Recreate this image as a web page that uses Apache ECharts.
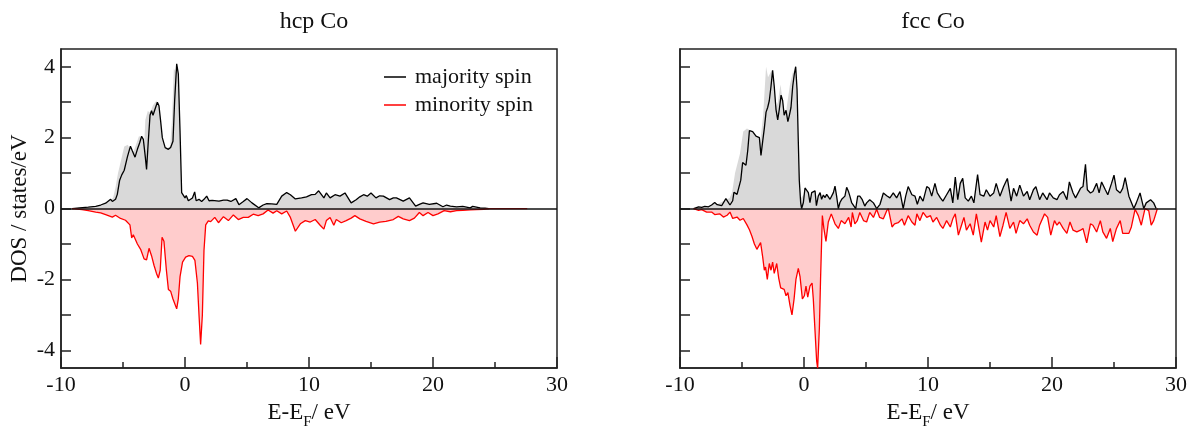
<!DOCTYPE html>
<html>
<head>
<meta charset="utf-8">
<script src="https://cdn.jsdelivr.net/npm/echarts@6/dist/echarts.min.js"></script>
<style>
html,body{margin:0;padding:0;background:#fff;}
#chart{width:1193px;height:435px;}
</style>
</head>
<body>
<div id="chart"></div>
<script>
// ---- Data: [E - E_F (eV), DOS (states/eV)] ----
const panelTitles = ['hcp Co', 'fcc Co'];
const legendNames = ['majority spin', 'minority spin'];
const xTicks = [-10, 0, 10, 20, 30];
const yTicks = [-4, -3, -2, -1, 0, 1, 2, 3, 4];
const yLabels = [-4, -2, 0, 2, 4];

const hcpUp = [[-9.1,0],[-8.5,0.02],[-7.8,0.04],[-7.2,0.06],[-6.8,0.1],[-6.4,0.15],[-6.0,0.26],[-5.86,0.2],[-5.6,0.26],[-5.46,0.4],[-5.27,0.8],[-5.1,0.95],[-4.9,1.08],[-4.65,1.45],[-4.4,1.76],[-4.25,1.63],[-4.03,1.45],[-3.84,1.67],[-3.66,1.85],[-3.5,2.04],[-3.36,1.95],[-3.2,1.45],[-3.1,1.1],[-2.96,1.9],[-2.82,2.63],[-2.7,2.76],[-2.58,2.63],[-2.42,2.8],[-2.23,3.0],[-2.1,2.9],[-1.96,2.45],[-1.83,2.0],[-1.6,1.72],[-1.34,1.67],[-1.16,1.72],[-0.97,1.9],[-0.83,3.08],[-0.67,4.08],[-0.54,3.8],[-0.4,2.17],[-0.27,0.45],[-0.16,0.4],[0,0.3],[0.1,0.37],[0.27,0.22],[0.4,0.17],[0.6,0.3],[0.78,0.47],[0.9,0.22],[1.13,0.26],[1.34,0.2],[1.53,0.26],[1.75,0.35],[1.94,0.22],[2.2,0.23],[2.74,0.21],[3.1,0.24],[3.4,0.24],[3.7,0.2],[4.1,0.28],[4.35,0.11],[4.7,0.2],[5.0,0.28],[5.4,0.16],[5.94,0.02],[6.3,0.1],[6.6,0.14],[7.0,0.13],[7.4,0.12],[7.8,0.35],[8.2,0.45],[8.5,0.39],[8.9,0.27],[9.4,0.3],[9.8,0.33],[10.2,0.39],[10.5,0.4],[10.78,0.5],[11.2,0.3],[11.4,0.44],[11.7,0.3],[12.1,0.39],[12.5,0.35],[12.9,0.44],[13.4,0.16],[13.8,0.25],[14.1,0.33],[14.4,0.39],[14.7,0.35],[15.0,0.44],[15.4,0.3],[15.7,0.36],[16.0,0.35],[16.5,0.25],[16.8,0.3],[17.05,0.3],[17.6,0.21],[18.1,0.3],[18.6,0.07],[18.9,0.12],[19.2,0.16],[19.7,0.12],[20.3,0.15],[20.8,0.05],[21.1,0.1],[21.4,0.07],[21.9,0.05],[22.4,0.06],[23.0,0.02],[23.2,0.06],[23.8,0.02],[24.2,0.01],[24.5,0]];

const hcpDown = [[-9.1,0],[-8.3,-0.03],[-7.8,-0.06],[-7.2,-0.1],[-6.8,-0.12],[-6.4,-0.17],[-5.86,-0.24],[-5.6,-0.19],[-5.2,-0.28],[-4.8,-0.33],[-4.44,-0.46],[-4.3,-0.83],[-4.17,-0.74],[-4.03,-0.78],[-3.84,-1.0],[-3.58,-1.15],[-3.3,-1.42],[-3.1,-1.45],[-2.9,-1.12],[-2.7,-1.33],[-2.5,-1.6],[-2.3,-1.83],[-2.15,-1.96],[-2.0,-1.74],[-1.85,-0.81],[-1.7,-0.92],[-1.5,-1.74],[-1.34,-2.28],[-1.16,-2.33],[-0.97,-2.55],[-0.67,-2.83],[-0.54,-2.55],[-0.4,-1.92],[-0.2,-1.51],[0.05,-1.37],[0.32,-1.33],[0.6,-1.35],[0.8,-1.46],[1.0,-2.1],[1.13,-3.0],[1.26,-3.83],[1.4,-3.0],[1.53,-1.19],[1.67,-0.46],[1.88,-0.35],[2.07,-0.37],[2.4,-0.25],[2.7,-0.4],[3.1,-0.23],[3.5,-0.34],[3.9,-0.18],[4.3,-0.31],[4.7,-0.25],[5.1,-0.25],[5.5,-0.16],[5.9,-0.2],[6.3,-0.15],[6.7,-0.04],[7.1,-0.13],[7.4,-0.06],[7.8,-0.15],[8.2,-0.07],[8.5,-0.25],[8.9,-0.64],[9.3,-0.43],[9.7,-0.34],[10.1,-0.38],[10.5,-0.31],[10.9,-0.47],[11.2,-0.58],[11.4,-0.34],[11.7,-0.25],[12.0,-0.47],[12.2,-0.31],[12.6,-0.4],[13.0,-0.34],[13.4,-0.27],[13.7,-0.2],[14.1,-0.29],[14.6,-0.36],[15.2,-0.43],[15.7,-0.38],[16.2,-0.36],[16.8,-0.31],[17.2,-0.22],[17.6,-0.29],[18.1,-0.34],[18.5,-0.27],[18.9,-0.11],[19.2,-0.2],[19.6,-0.11],[20.0,-0.2],[20.4,-0.15],[20.9,-0.06],[21.4,-0.09],[21.9,-0.06],[22.4,-0.05],[23.0,-0.04],[23.5,-0.03],[24.1,-0.02],[24.6,0],[27.6,0]];

const fccUp = [[-8.9,0],[-8.5,0.05],[-8.25,0.03],[-8.0,0.06],[-7.7,0.05],[-7.45,0.1],[-7.2,0.17],[-7.0,0.11],[-6.64,0.08],[-6.3,0.28],[-5.97,0.1],[-5.75,0.22],[-5.65,0.46],[-5.4,0.4],[-5.27,0.45],[-5.1,0.8],[-4.95,1.3],[-4.8,1.26],[-4.68,1.22],[-4.54,1.63],[-4.4,2.2],[-4.27,2.17],[-4.14,2.17],[-4.0,2.2],[-3.87,2.04],[-3.74,2.08],[-3.6,2.0],[-3.47,1.5],[-3.33,1.9],[-3.2,2.26],[-3.06,2.72],[-2.93,2.85],[-2.8,3.04],[-2.66,3.45],[-2.53,3.9],[-2.4,3.45],[-2.26,2.8],[-2.12,2.5],[-1.99,2.8],[-1.85,3.2],[-1.72,3.04],[-1.6,2.63],[-1.45,2.77],[-1.3,2.45],[-1.18,2.63],[-1.05,2.85],[-0.91,3.45],[-0.78,3.8],[-0.67,4.0],[-0.56,3.35],[-0.46,1.9],[-0.38,0.8],[-0.27,0.17],[-0.19,0],[-0.05,0.17],[0.08,0.58],[0.2,0.63],[0.35,0.45],[0.48,0.17],[0.62,0.45],[0.75,0.4],[0.89,0.5],[1.0,0.08],[1.15,0.35],[1.3,0.45],[1.42,0.26],[1.56,0.38],[1.7,0.31],[1.83,0.4],[1.96,0.45],[2.1,0.26],[2.23,0.31],[2.37,0.45],[2.5,0.63],[2.63,0.35],[2.77,0],[2.9,0.17],[3.04,0.26],[3.17,0.22],[3.3,0.35],[3.44,0.6],[3.58,0.49],[3.7,0.35],[3.84,0.17],[3.98,0.22],[4.17,0],[4.33,0.35],[4.5,0.35],[4.7,0.25],[4.9,0.07],[5.05,0.16],[5.3,0.25],[5.6,0.16],[5.86,0],[6.13,0.12],[6.4,0.44],[6.67,0.36],[6.93,0.3],[7.2,0.44],[7.47,0.3],[7.74,0.48],[8.0,0],[8.2,0.35],[8.4,0.62],[8.7,0.39],[8.95,0.35],[9.14,0.12],[9.35,0.35],[9.6,0.21],[9.9,0.62],[10.1,0.57],[10.3,0.35],[10.56,0.71],[10.75,0.44],[11.0,0.3],[11.2,0.21],[11.5,0.39],[11.8,0.57],[12.0,0.16],[12.2,0.89],[12.4,0.25],[12.6,0.71],[12.8,0.85],[13.0,0.3],[13.25,0.21],[13.5,0.35],[13.7,0.16],[14.0,0.96],[14.2,0.39],[14.5,0.35],[14.7,0.53],[15.0,0.35],[15.3,0.44],[15.5,0.71],[15.8,0.35],[16.1,0.62],[16.4,0.85],[16.7,0.21],[16.9,0.57],[17.15,0.35],[17.4,0.66],[17.7,0.35],[18.0,0.48],[18.2,0.25],[18.5,0.53],[18.7,0.62],[19.0,0.25],[19.25,0.44],[19.6,0.25],[19.8,0.44],[20.1,0.3],[20.4,0.25],[20.6,0.39],[20.9,0.48],[21.2,0.25],[21.4,0.75],[21.7,0.44],[21.9,0.3],[22.3,0.57],[22.5,0.62],[22.7,1.25],[22.85,0.53],[23.1,0.44],[23.3,0.48],[23.6,0.71],[23.8,0.44],[24.0,0.75],[24.3,0.53],[24.5,0.39],[24.8,0.71],[25.0,0.94],[25.2,0.53],[25.5,0.44],[25.7,0.57],[25.9,0.87],[26.2,0.35],[26.6,0],[26.8,0.16],[27.1,0.44],[27.4,0],[27.6,0.16],[27.95,0.25],[28.2,0.16],[28.4,0]];

const fccDown = [[-8.9,0],[-8.5,-0.05],[-8.25,-0.03],[-7.85,-0.1],[-7.45,-0.1],[-7.2,-0.17],[-6.8,-0.15],[-6.5,-0.24],[-6.2,-0.19],[-5.97,-0.1],[-5.75,-0.28],[-5.4,-0.24],[-5.16,-0.33],[-4.9,-0.28],[-4.6,-0.46],[-4.4,-0.6],[-4.2,-0.78],[-4.0,-1.0],[-3.8,-1.15],[-3.66,-1.19],[-3.5,-0.96],[-3.33,-1.37],[-3.2,-1.74],[-3.1,-1.65],[-2.96,-2.0],[-2.8,-1.55],[-2.66,-1.74],[-2.53,-1.51],[-2.4,-1.83],[-2.2,-1.55],[-2.04,-1.96],[-1.88,-2.24],[-1.72,-2.19],[-1.6,-2.28],[-1.45,-2.46],[-1.3,-2.37],[-1.13,-2.73],[-0.97,-3.0],[-0.8,-2.55],[-0.65,-2.0],[-0.46,-1.69],[-0.32,-1.92],[-0.13,-2.55],[0.03,-2.46],[0.16,-2.19],[0.3,-2.5],[0.48,-2.19],[0.65,-2.1],[0.75,-2.55],[0.89,-3.46],[1.02,-4.3],[1.1,-4.5],[1.24,-3.37],[1.34,-1.92],[1.48,-0.2],[1.6,-0.55],[1.77,-0.93],[1.96,-0.38],[2.2,-0.15],[2.5,-0.43],[2.77,-0.56],[3.0,-0.34],[3.3,-0.43],[3.6,-0.25],[3.8,-0.52],[3.9,-0.11],[4.1,-0.43],[4.3,-0.34],[4.5,-0.11],[4.8,-0.34],[5.05,-0.38],[5.3,-0.11],[5.6,-0.25],[5.86,-0.02],[6.1,-0.25],[6.4,-0.29],[6.67,-0.06],[6.8,0],[7.1,-0.52],[7.3,-0.43],[7.6,-0.4],[7.9,-0.29],[8.1,-0.47],[8.4,-0.2],[8.7,-0.38],[8.95,-0.47],[9.1,-0.15],[9.35,-0.34],[9.6,-0.11],[9.9,-0.25],[10.2,-0.2],[10.4,-0.38],[10.7,-0.25],[11.0,-0.47],[11.2,-0.56],[11.5,-0.34],[11.8,-0.52],[12.0,-0.29],[12.2,-0.15],[12.45,-0.75],[12.7,-0.47],[12.9,-0.25],[13.1,-0.61],[13.4,-0.43],[13.65,-0.75],[13.9,-0.15],[14.06,-0.11],[14.3,-0.95],[14.6,-0.38],[14.8,-0.61],[15.0,-0.34],[15.3,-0.52],[15.5,-0.2],[15.8,-0.79],[16.05,-0.47],[16.3,-0.11],[16.6,-0.56],[16.9,-0.38],[17.1,-0.7],[17.4,-0.34],[17.7,-0.43],[18.0,-0.29],[18.2,-0.47],[18.5,-0.66],[18.8,-0.75],[19.0,-0.47],[19.4,-0.15],[19.65,-0.25],[19.9,-0.75],[20.2,-0.34],[20.4,-0.47],[20.6,-0.38],[20.9,-0.56],[21.2,-0.7],[21.45,-0.38],[21.7,-0.61],[22.0,-0.66],[22.3,-0.61],[22.5,-0.56],[22.8,-0.97],[23.1,-0.43],[23.3,-0.47],[23.6,-0.66],[23.9,-0.34],[24.1,-0.66],[24.4,-0.84],[24.7,-0.56],[24.9,-0.93],[25.2,-0.56],[25.5,-0.34],[25.7,-0.7],[26.2,-0.7],[26.4,-0.52],[26.7,-0.02],[26.96,-0.2],[27.2,-0.47],[27.5,0],[27.8,-0.06],[28.0,-0.47],[28.2,-0.34],[28.5,0]];

// shaded reference DOS (slightly offset from the lines in the d-band region)
const hcpUpShade = [[-9.1,0],[-7.2,0.06],[-6.2,0.2],[-5.8,0.3],[-5.6,0.6],[-5.4,1.0],[-5.2,1.3],[-4.9,1.75],[-4.6,1.8],[-4.4,1.6],[-4.2,1.55],[-4.0,1.75],[-3.7,2.05],[-3.5,1.95],[-3.35,1.35],[-3.2,2.5],[-3.0,2.75],[-2.8,2.7],[-2.6,2.9],[-2.3,3.05],[-2.15,2.7],[-2.0,1.95],[-1.8,1.75],[-1.5,1.7],[-1.2,1.75],[-1.05,2.5],[-0.9,3.95],[-0.75,3.85],[-0.6,2.2],[-0.45,0.3],[-0.2,0.3],[0.2,0.25]];
const fccUpShade = [[-8.9,0],[-7.0,0.12],[-6.0,0.3],[-5.8,0.45],[-5.56,1.0],[-5.16,1.55],[-4.9,2.17],[-4.6,2.26],[-4.3,2.2],[-3.95,1.8],[-3.55,1.8],[-3.3,2.6],[-3.06,4.0],[-2.9,3.7],[-2.6,3.9],[-2.35,2.8],[-2.1,3.0],[-1.9,3.5],[-1.7,3.0],[-1.5,2.6],[-1.13,3.5],[-0.86,3.9],[-0.6,2.2],[-0.46,0.2],[0.0,0.4]];

const panels = [
  {up: hcpUp, down: hcpDown, upShade: hcpUpShade},
  {up: fccUp, down: fccDown, upShade: fccUpShade}
];

const SERIF = '"Liberation Serif", "DejaVu Serif", serif';
const UP_COLOR = '#000000', DOWN_COLOR = '#ff0000';
const UP_FILL = '#d9d9d9', DOWN_FILL = '#ffcccc';

const chart = echarts.init(document.getElementById('chart'), null, {renderer: 'canvas'});

const grids = [
  {left: 61, width: 496, top: 49, height: 328},
  {left: 680, width: 496, top: 49, height: 328}
].map(g => Object.assign({show: true, borderColor: '#222', borderWidth: 1.5, backgroundColor: 'transparent', containLabel: false}, g));

const xAxes = grids.map((g, i) => ({
  type: 'value', gridIndex: i, min: -10, max: 30, interval: 10,
  name: i === 0 || i === 1 ? '{a|E-E}{s|F}{a|/ eV}' : '',
  nameLocation: 'middle', nameGap: 24,
  nameTextStyle: {rich: {
    a: {fontFamily: SERIF, fontSize: 23, color: '#111', lineHeight: 26, verticalAlign: 'bottom'},
    s: {fontFamily: SERIF, fontSize: 15, color: '#111', lineHeight: 26, verticalAlign: 'bottom', padding: [0, 0, -6, 0]}
  }},
  axisLine: {show: true, onZero: false, lineStyle: {color: '#222', width: 1.5}},
  axisTick: {show: true, inside: true, length: 11, lineStyle: {color: '#222', width: 1.5}},
  minorTick: {show: true, splitNumber: 2, length: 6, lineStyle: {color: '#222', width: 1.5}},
  splitLine: {show: false},
  axisLabel: {show: true, fontFamily: SERIF, fontSize: 22, color: '#111', margin: 6,
    formatter: v => xTicks.includes(v) ? String(v) : ''}
}));

const yAxes = grids.map((g, i) => ({
  type: 'value', gridIndex: i, min: -4.5, max: 4.5,
  name: i === 0 ? 'DOS / states/eV' : '',
  nameLocation: 'middle', nameGap: 30,
  nameTextStyle: {fontFamily: SERIF, fontSize: 23, color: '#111'},
  axisLine: {show: true, onZero: false, lineStyle: {color: '#222', width: 1.5}},
  axisTick: {show: true, inside: true, length: 10, customValues: yTicks, lineStyle: {color: '#222', width: 1.5}},
  splitLine: {show: false},
  axisLabel: {show: i === 0, fontFamily: SERIF, fontSize: 22, color: '#111', margin: 6, customValues: yLabels}
}));

const series = [];
panels.forEach((p, i) => {
  const common = {type: 'line', xAxisIndex: i, yAxisIndex: i, symbol: 'none', silent: true, animation: false};
  // shaded areas
  series.push(Object.assign({}, common, {name: 'shade-up-ref-' + i, data: p.upShade, z: 1,
    lineStyle: {width: 0}, areaStyle: {color: UP_FILL, opacity: 1}}));
  series.push(Object.assign({}, common, {name: 'shade-up-' + i, data: p.up, z: 1,
    lineStyle: {width: 0}, areaStyle: {color: UP_FILL, opacity: 1}}));
  series.push(Object.assign({}, common, {name: 'shade-down-' + i, data: p.down, z: 1,
    lineStyle: {width: 0}, areaStyle: {color: DOWN_FILL, opacity: 1}}));
  // lines
  series.push(Object.assign({}, common, {name: legendNames[0], data: p.up, z: 3,
    itemStyle: {color: UP_COLOR}, lineStyle: {color: UP_COLOR, width: 1.3}}));
  series.push(Object.assign({}, common, {name: legendNames[1], data: p.down, z: 3,
    itemStyle: {color: DOWN_COLOR}, lineStyle: {color: DOWN_COLOR, width: 1.3},
    markLine: {silent: true, symbol: ['none', 'none'], animation: false,
      label: {show: false}, lineStyle: {color: '#111', width: 1.6, type: 'solid'},
      data: [{yAxis: 0}]}}));
});

chart.setOption({
  animation: false,
  backgroundColor: '#fff',
  title: panelTitles.map((t, i) => ({
    text: t, left: grids[i].left + grids[i].width / 2, top: 5, textAlign: 'center',
    textStyle: {fontFamily: SERIF, fontSize: 24, fontWeight: 'normal', color: '#111'}
  })),
  legend: {
    data: legendNames, orient: 'vertical', left: 379, top: 61,
    itemWidth: 22, itemHeight: 1.5, itemGap: 6, icon: 'rect', selectedMode: false,
    textStyle: {fontFamily: SERIF, fontSize: 22, color: '#111', padding: [0, 0, 0, 4]}
  },
  grid: grids,
  xAxis: xAxes,
  yAxis: yAxes,
  series: series
});
</script>
</body>
</html>
